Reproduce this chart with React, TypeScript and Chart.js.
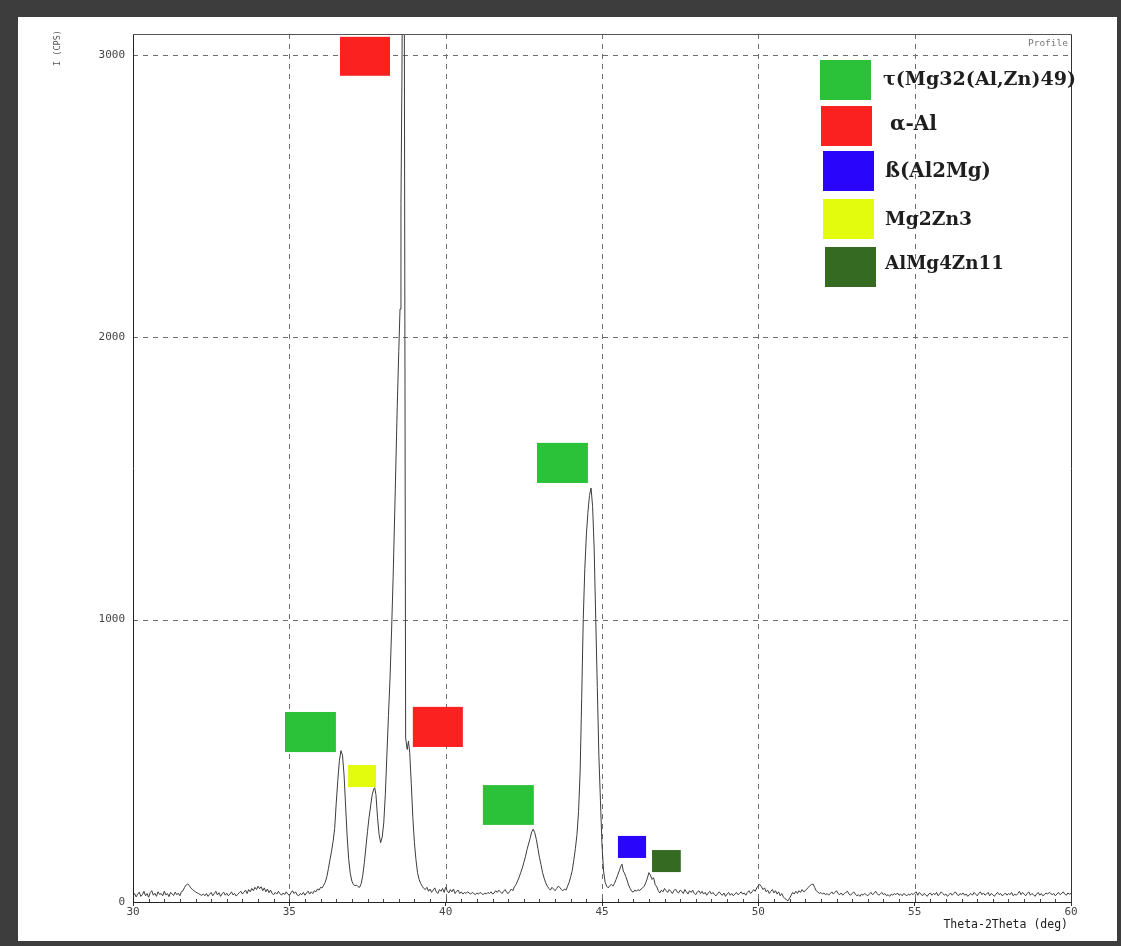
import { useEffect, useRef } from "react";
import { Chart, registerables } from "chart.js";

Chart.register(...registerables);

// ---------- data ----------
const phaseNames = ["τ(Mg32(Al,Zn)49)", "α-Al", "ß(Al2Mg)", "Mg2Zn3", "AlMg4Zn11"];
const phaseColors = ["#2bc23a", "#fb2121", "#2a05fb", "#e3fb0c", "#356a23"];

const xTickValues = [30, 35, 40, 45, 50, 55, 60];
const yTickValues = [0, 1000, 2000, 3000];
const xGridValues = [35, 40, 45, 50, 55];
const yGridValues = [1000, 2000, 3000];

// peak identification markers (phase index, 2θ range, intensity range)
const markerPhase = [1, 0, 3, 1, 0, 0, 2, 4];
const markerFrom2Theta = [36.62, 34.86, 36.88, 38.95, 42.92, 41.19, 45.51, 46.6];
const markerTo2Theta = [38.22, 36.49, 37.77, 40.55, 44.55, 42.82, 46.41, 47.52];
const markerLow = [2926, 531, 407, 549, 1484, 273, 156, 106];
const markerHigh = [3064, 673, 485, 691, 1626, 414, 234, 184];

// XRD profile: [2θ (deg), intensity (CPS)]
const pattern: [number, number][] = [
  [30.0, 22], [30.05, 30], [30.1, 18], [30.15, 28], [30.2, 35], [30.25, 20], [30.3, 26], [30.35, 38], [30.4, 22], [30.45, 30],
  [30.5, 17], [30.55, 33], [30.6, 40], [30.65, 24], [30.7, 31], [30.75, 20], [30.8, 36], [30.85, 27], [30.9, 30], [30.95, 22],
  [31.0, 38], [31.05, 25], [31.1, 30], [31.15, 19], [31.2, 34], [31.25, 28], [31.3, 23], [31.35, 35], [31.4, 26], [31.45, 31],
  [31.5, 22], [31.55, 37], [31.6, 40], [31.65, 52], [31.7, 60], [31.75, 64], [31.8, 58], [31.85, 50], [31.9, 44], [31.95, 40],
  [32.0, 36], [32.05, 32], [32.1, 30], [32.15, 26], [32.2, 24], [32.25, 28], [32.3, 22], [32.35, 30], [32.4, 20], [32.45, 27],
  [32.5, 34], [32.55, 22], [32.6, 30], [32.65, 38], [32.7, 25], [32.75, 33], [32.8, 20], [32.85, 29], [32.9, 35], [32.95, 24],
  [33.0, 31], [33.05, 22], [33.1, 28], [33.15, 36], [33.2, 25], [33.25, 30], [33.3, 21], [33.35, 27], [33.4, 33], [33.45, 38],
  [33.5, 28], [33.55, 35], [33.6, 42], [33.65, 30], [33.7, 44], [33.75, 36], [33.8, 48], [33.85, 40], [33.9, 52], [33.95, 44],
  [34.0, 56], [34.05, 47], [34.1, 54], [34.15, 40], [34.2, 50], [34.25, 36], [34.3, 46], [34.35, 33], [34.4, 42], [34.45, 30],
  [34.5, 26], [34.55, 34], [34.6, 28], [34.65, 38], [34.7, 30], [34.75, 24], [34.8, 32], [34.85, 26], [34.9, 36], [34.95, 28],
  [35.0, 24], [35.05, 32], [35.1, 40], [35.15, 30], [35.2, 36], [35.25, 25], [35.3, 22], [35.35, 30], [35.4, 26], [35.45, 34],
  [35.5, 24], [35.55, 32], [35.6, 38], [35.65, 28], [35.7, 36], [35.75, 30], [35.8, 40], [35.85, 36], [35.9, 46], [35.95, 42],
  [36.0, 52], [36.05, 50], [36.1, 60], [36.15, 70], [36.2, 90], [36.25, 118], [36.3, 150], [36.35, 180], [36.4, 215], [36.45, 260],
  [36.5, 350], [36.55, 430], [36.6, 500], [36.65, 536], [36.7, 520], [36.75, 450], [36.8, 340], [36.85, 230], [36.9, 150], [36.95, 100],
  [37.0, 74], [37.05, 62], [37.1, 58], [37.15, 60], [37.2, 54], [37.25, 52], [37.3, 66], [37.35, 95], [37.4, 140], [37.45, 195],
  [37.5, 250], [37.55, 300], [37.6, 340], [37.65, 380], [37.7, 400], [37.73, 405], [37.77, 380], [37.82, 300], [37.87, 240], [37.92, 210],
  [37.97, 230], [38.02, 280], [38.07, 380], [38.12, 520], [38.17, 660], [38.22, 790], [38.27, 960], [38.32, 1150], [38.38, 1420], [38.45, 1750],
  [38.5, 1950], [38.54, 2100], [38.57, 2470], [38.6, 2900], [38.63, 3500], [38.67, 3600], [38.72, 580], [38.77, 540], [38.81, 570],
  [38.85, 530], [38.9, 420], [38.95, 300], [39.0, 210], [39.05, 150], [39.1, 104], [39.15, 80], [39.2, 66], [39.25, 56], [39.3, 48],
  [39.35, 44], [39.4, 52], [39.45, 38], [39.5, 46], [39.55, 34], [39.6, 42], [39.65, 50], [39.7, 36], [39.75, 30], [39.8, 44],
  [39.85, 38], [39.9, 48], [39.95, 34], [40.0, 52], [40.05, 40], [40.1, 32], [40.15, 44], [40.2, 36], [40.25, 46], [40.3, 30],
  [40.35, 38], [40.4, 42], [40.45, 30], [40.5, 36], [40.55, 28], [40.6, 34], [40.65, 30], [40.7, 36], [40.75, 32], [40.8, 28],
  [40.85, 34], [40.9, 30], [40.95, 26], [41.0, 32], [41.05, 28], [41.1, 34], [41.15, 30], [41.2, 26], [41.25, 32], [41.3, 28],
  [41.35, 34], [41.4, 30], [41.45, 36], [41.5, 28], [41.55, 32], [41.6, 40], [41.65, 34], [41.7, 42], [41.75, 36], [41.8, 30],
  [41.85, 38], [41.9, 44], [41.95, 34], [42.0, 30], [42.05, 38], [42.1, 46], [42.15, 40], [42.2, 54], [42.25, 62], [42.3, 74],
  [42.35, 88], [42.4, 104], [42.45, 120], [42.5, 140], [42.55, 160], [42.6, 185], [42.65, 205], [42.7, 225], [42.75, 248], [42.8, 258],
  [42.85, 245], [42.9, 222], [42.95, 190], [43.0, 158], [43.05, 132], [43.1, 104], [43.15, 84], [43.2, 68], [43.25, 56], [43.3, 48],
  [43.35, 42], [43.4, 52], [43.45, 46], [43.5, 40], [43.55, 48], [43.6, 56], [43.65, 52], [43.7, 44], [43.75, 40], [43.8, 46],
  [43.85, 42], [43.9, 56], [43.95, 70], [44.0, 90], [44.05, 112], [44.1, 150], [44.15, 190], [44.2, 240], [44.25, 320], [44.3, 460],
  [44.35, 720], [44.4, 1000], [44.45, 1180], [44.5, 1300], [44.55, 1380], [44.6, 1440], [44.65, 1466], [44.7, 1400], [44.75, 1250], [44.8, 1000],
  [44.85, 760], [44.9, 520], [44.95, 360], [45.0, 200], [45.05, 110], [45.1, 70], [45.15, 56], [45.2, 50], [45.25, 58], [45.3, 62],
  [45.35, 56], [45.4, 66], [45.45, 80], [45.5, 95], [45.55, 110], [45.6, 126], [45.64, 134], [45.68, 110], [45.72, 102], [45.76, 90],
  [45.8, 78], [45.85, 60], [45.9, 48], [45.95, 38], [46.0, 35], [46.05, 42], [46.1, 38], [46.15, 44], [46.2, 40], [46.25, 46],
  [46.3, 50], [46.35, 56], [46.4, 68], [46.45, 84], [46.5, 104], [46.55, 95], [46.6, 80], [46.65, 86], [46.7, 62], [46.75, 54],
  [46.8, 40], [46.85, 32], [46.9, 42], [46.95, 36], [47.0, 48], [47.05, 40], [47.1, 34], [47.15, 44], [47.2, 38], [47.25, 30],
  [47.3, 40], [47.35, 46], [47.4, 36], [47.45, 32], [47.5, 42], [47.55, 38], [47.6, 30], [47.65, 44], [47.7, 36], [47.75, 28],
  [47.8, 40], [47.85, 34], [47.9, 42], [47.95, 30], [48.0, 26], [48.05, 36], [48.1, 40], [48.15, 30], [48.2, 38], [48.25, 28],
  [48.3, 34], [48.35, 24], [48.4, 32], [48.45, 38], [48.5, 28], [48.55, 34], [48.6, 26], [48.65, 22], [48.7, 30], [48.75, 36],
  [48.8, 28], [48.85, 24], [48.9, 32], [48.95, 20], [49.0, 28], [49.05, 34], [49.1, 24], [49.15, 30], [49.2, 22], [49.25, 28],
  [49.3, 34], [49.35, 26], [49.4, 30], [49.45, 36], [49.5, 28], [49.55, 32], [49.6, 24], [49.65, 34], [49.7, 40], [49.75, 30],
  [49.8, 36], [49.85, 44], [49.9, 38], [49.95, 50], [50.0, 58], [50.05, 62], [50.1, 54], [50.15, 44], [50.2, 50], [50.25, 36],
  [50.3, 42], [50.35, 30], [50.4, 38], [50.45, 44], [50.5, 32], [50.55, 40], [50.6, 28], [50.65, 36], [50.7, 22], [50.75, 30],
  [50.8, 18], [50.85, 12], [50.9, 8], [50.95, 4], [51.0, 14], [51.05, 24], [51.1, 34], [51.15, 28], [51.2, 38], [51.25, 30],
  [51.3, 40], [51.35, 34], [51.4, 44], [51.45, 36], [51.5, 40], [51.55, 46], [51.6, 52], [51.65, 58], [51.7, 62], [51.75, 64],
  [51.8, 52], [51.85, 40], [51.9, 36], [51.95, 30], [52.0, 34], [52.05, 28], [52.1, 32], [52.15, 26], [52.2, 30], [52.25, 24],
  [52.3, 30], [52.35, 36], [52.4, 28], [52.45, 34], [52.5, 40], [52.55, 30], [52.6, 26], [52.65, 32], [52.7, 24], [52.75, 30],
  [52.8, 34], [52.85, 38], [52.9, 28], [52.95, 24], [53.0, 30], [53.05, 36], [53.1, 28], [53.15, 22], [53.2, 26], [53.25, 20],
  [53.3, 28], [53.35, 24], [53.4, 30], [53.45, 26], [53.5, 22], [53.55, 28], [53.6, 34], [53.65, 26], [53.7, 30], [53.75, 38],
  [53.8, 30], [53.85, 24], [53.9, 28], [53.95, 34], [54.0, 26], [54.05, 30], [54.1, 22], [54.15, 26], [54.2, 20], [54.25, 28],
  [54.3, 24], [54.35, 30], [54.4, 26], [54.45, 32], [54.5, 24], [54.55, 28], [54.6, 22], [54.65, 30], [54.7, 26], [54.75, 22],
  [54.8, 28], [54.85, 24], [54.9, 30], [54.95, 26], [55.0, 32], [55.05, 36], [55.1, 24], [55.15, 34], [55.2, 28], [55.25, 22],
  [55.3, 30], [55.35, 26], [55.4, 20], [55.45, 28], [55.5, 32], [55.55, 24], [55.6, 30], [55.65, 26], [55.7, 34], [55.75, 22],
  [55.8, 28], [55.85, 36], [55.9, 30], [55.95, 24], [56.0, 28], [56.05, 20], [56.1, 26], [56.15, 32], [56.2, 24], [56.25, 30],
  [56.3, 36], [56.35, 28], [56.4, 22], [56.45, 30], [56.5, 26], [56.55, 32], [56.6, 24], [56.65, 28], [56.7, 20], [56.75, 26],
  [56.8, 30], [56.85, 24], [56.9, 34], [56.95, 28], [57.0, 22], [57.05, 30], [57.1, 36], [57.15, 26], [57.2, 32], [57.25, 24],
  [57.3, 28], [57.35, 34], [57.4, 22], [57.45, 30], [57.5, 26], [57.55, 20], [57.6, 28], [57.65, 34], [57.7, 26], [57.75, 30],
  [57.8, 22], [57.85, 26], [57.9, 32], [57.95, 24], [58.0, 30], [58.05, 26], [58.1, 34], [58.15, 22], [58.2, 28], [58.25, 24],
  [58.3, 30], [58.35, 38], [58.4, 26], [58.45, 34], [58.5, 28], [58.55, 22], [58.6, 30], [58.65, 36], [58.7, 24], [58.75, 30],
  [58.8, 26], [58.85, 20], [58.9, 28], [58.95, 34], [59.0, 24], [59.05, 30], [59.1, 22], [59.15, 26], [59.2, 32], [59.25, 28],
  [59.3, 34], [59.35, 30], [59.4, 26], [59.45, 30], [59.5, 22], [59.55, 28], [59.6, 34], [59.65, 26], [59.7, 30], [59.75, 36],
  [59.8, 28], [59.85, 24], [59.9, 32], [59.95, 28], [60.0, 30],
];

// ---------- layout (pixels) ----------
const legendBoxX = [820, 821, 823, 823, 825];
const legendBoxY = [60, 106, 151, 199, 247];
const legendTextX = [883, 890, 885, 885, 885];
const legendTextY = [80, 125, 172, 220, 264];
const legendTextW = [193, 47, 106, 87, 119];

const decorPlugin = {
  id: "decor",
  beforeDatasetsDraw(chart: any) {
    const { ctx, chartArea: a, scales } = chart;
    const sx = scales.x;
    const sy = scales.y;
    ctx.save();
    ctx.strokeStyle = "#6e6e6e";
    ctx.lineWidth = 1;
    ctx.setLineDash([5, 5]);
    for (const v of xGridValues) {
      const px = Math.round(sx.getPixelForValue(v)) + 0.5;
      ctx.beginPath();
      ctx.moveTo(px, a.top);
      ctx.lineTo(px, a.bottom);
      ctx.stroke();
    }
    for (const v of yGridValues) {
      const py = Math.round(sy.getPixelForValue(v)) + 0.5;
      ctx.beginPath();
      ctx.moveTo(a.left, py);
      ctx.lineTo(a.right, py);
      ctx.stroke();
    }
    ctx.setLineDash([]);
    // minor ticks on the 2θ axis
    ctx.strokeStyle = "#444";
    for (let v = 30.5; v < 60; v += 0.5) {
      const px = Math.round(sx.getPixelForValue(v)) + 0.5;
      ctx.beginPath();
      ctx.moveTo(px, a.bottom);
      ctx.lineTo(px, a.bottom - 3);
      ctx.stroke();
    }
    ctx.restore();
  },
  afterDatasetsDraw(chart: any) {
    const { ctx, chartArea: a, scales } = chart;
    const sx = scales.x;
    const sy = scales.y;
    ctx.save();
    // frame
    ctx.lineWidth = 1;
    ctx.strokeStyle = "#555";
    ctx.beginPath();
    ctx.moveTo(Math.round(a.left) + 0.5, Math.round(a.top) + 0.5);
    ctx.lineTo(Math.round(a.right) + 0.5, Math.round(a.top) + 0.5);
    ctx.stroke();
    ctx.strokeStyle = "#333";
    ctx.beginPath();
    ctx.moveTo(Math.round(a.right) + 0.5, Math.round(a.top) + 0.5);
    ctx.lineTo(Math.round(a.right) + 0.5, Math.round(a.bottom) + 0.5);
    ctx.stroke();
    ctx.strokeStyle = "#222";
    ctx.beginPath();
    ctx.moveTo(Math.round(a.left) + 0.5, Math.round(a.top) + 0.5);
    ctx.lineTo(Math.round(a.left) + 0.5, Math.round(a.bottom) + 0.5);
    ctx.lineTo(Math.round(a.right) + 0.5, Math.round(a.bottom) + 0.5);
    ctx.stroke();

    // peak markers
    for (let i = 0; i < markerPhase.length; i++) {
      const x0 = sx.getPixelForValue(markerFrom2Theta[i]);
      const x1 = sx.getPixelForValue(markerTo2Theta[i]);
      const y0 = sy.getPixelForValue(markerHigh[i]);
      const y1 = sy.getPixelForValue(markerLow[i]);
      ctx.fillStyle = phaseColors[markerPhase[i]];
      ctx.fillRect(x0, y0, x1 - x0, y1 - y0);
    }

    // legend
    for (let i = 0; i < phaseNames.length; i++) {
      ctx.fillStyle = phaseColors[i];
      ctx.fillRect(legendBoxX[i], legendBoxY[i], 51, 40);
      ctx.font = 'bold 20px "DejaVu Serif"';
      const w = ctx.measureText(phaseNames[i]).width;
      const size = (20 * legendTextW[i]) / w;
      ctx.font = `bold ${size.toFixed(2)}px "DejaVu Serif"`;
      ctx.fillStyle = "#1e1e1e";
      ctx.textAlign = "left";
      ctx.textBaseline = "middle";
      ctx.fillText(phaseNames[i], legendTextX[i], legendTextY[i]);
    }

    // texts
    ctx.fillStyle = "#777";
    ctx.font = '9.5px "DejaVu Sans Mono"';
    ctx.textAlign = "right";
    ctx.textBaseline = "middle";
    ctx.fillText("Profile", a.right - 3, a.top + 10);

    ctx.fillStyle = "#222";
    ctx.font = '11.5px "DejaVu Sans Mono"';
    ctx.textAlign = "right";
    ctx.fillText("Theta-2Theta (deg)", a.right - 3, 925);

    ctx.save();
    ctx.translate(58, 48);
    ctx.rotate(-Math.PI / 2);
    ctx.fillStyle = "#555";
    ctx.font = '8.5px "DejaVu Sans Mono"';
    ctx.textAlign = "center";
    ctx.fillText("I (CPS)", 0, 0);
    ctx.restore();

    ctx.restore();
  },
};

export default function App() {
  const canvasRef = useRef<HTMLCanvasElement | null>(null);

  useEffect(() => {
    const canvas = canvasRef.current;
    if (!canvas) return;
    const chart = new Chart(canvas, {
      type: "line",
      data: {
        datasets: [
          {
            label: "Profile",
            data: pattern.map(([x, y]) => ({ x, y })),
            borderColor: "#3c3c3c",
            borderWidth: 1,
            pointRadius: 0,
            tension: 0,
            fill: false,
          },
        ],
      },
      options: {
        animation: false,
        responsive: false,
        devicePixelRatio: 1,
        layout: { padding: { left: 0, top: 34, right: 50, bottom: 0 } },
        plugins: { legend: { display: false }, tooltip: { enabled: false } },
        scales: {
          x: {
            type: "linear",
            min: 30,
            max: 60,
            afterFit: (s: any) => {
              s.height = 44;
            },
            afterBuildTicks: (s: any) => {
              s.ticks = xTickValues.map((v) => ({ value: v }));
            },
            ticks: {
              padding: 0,
              color: "#444",
              font: { family: "DejaVu Sans Mono", size: 11 },
              maxRotation: 0,
              callback: (v: any) => String(v),
            },
            grid: {
              drawOnChartArea: false,
              drawTicks: true,
              tickLength: 4,
              tickColor: "#333",
              color: "#333",
            },
            border: { display: false },
          },
          y: {
            type: "linear",
            min: 0,
            max: 3074,
            afterFit: (s: any) => {
              s.width = 133;
            },
            afterBuildTicks: (s: any) => {
              s.ticks = yTickValues.map((v) => ({ value: v }));
            },
            ticks: {
              padding: 8,
              color: "#444",
              font: { family: "DejaVu Sans Mono", size: 11 },
              callback: (v: any) => String(v),
            },
            grid: { drawOnChartArea: false, drawTicks: false },
            border: { display: false },
          },
        },
      },
      plugins: [decorPlugin],
    });
    return () => chart.destroy();
  }, []);

  return (
    <div style={{ position: "fixed", left: 0, top: 0, width: 1121, height: 946, background: "#3d3d3d" }}>
      <div style={{ position: "absolute", left: 18, top: 17, width: 1099, height: 924, background: "#ffffff" }} />
      <canvas
        ref={canvasRef}
        width={1121}
        height={946}
        style={{ position: "absolute", left: 0, top: 0, width: 1121, height: 946 }}
      />
    </div>
  );
}
